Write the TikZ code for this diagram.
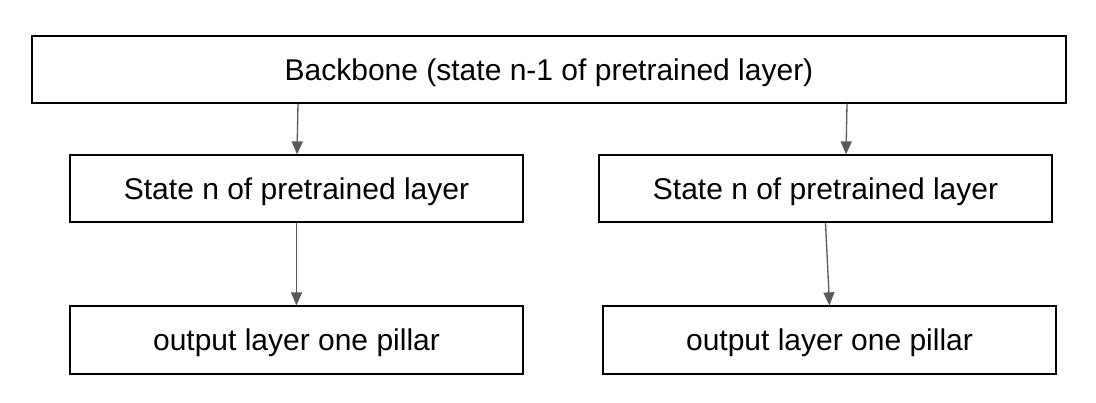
\documentclass[tikz,border=0pt]{standalone}
\usepackage{fontspec}
\setmainfont{Liberation Sans}
\usetikzlibrary{arrows.meta}
\begin{document}
\begin{tikzpicture}[x=1bp,y=-1bp,
  box/.style={draw=black,line width=1.3bp,fill=white,inner sep=0pt,text height=21bp,text depth=0bp,font=\fontsize{30bp}{34bp}\selectfont},
  arr/.style={draw={rgb,255:red,89;green,89;blue,89},line width=1.3bp,-{Triangle[length=13bp,width=11bp]}}]
\useasboundingbox (0,0) rectangle (1096,402);
\node[box,minimum width=1034bp,minimum height=67bp] (bb) at (549,69.5) {Backbone (state n-1 of pretrained layer)};
\node[box,minimum width=453bp,minimum height=67bp] (s1) at (296.5,188.5) {State n of pretrained layer};
\node[box,minimum width=453bp,minimum height=67bp] (s2) at (825.5,188.5) {State n of pretrained layer};
\node[box,minimum width=453bp,minimum height=68bp] (o1) at (296.5,340) {output layer one pillar};
\node[box,minimum width=453bp,minimum height=68bp] (o2) at (829.5,340) {output layer one pillar};
\draw[arr] (bb.south -| 298,0) -- (s1.north -| 297,0);
\draw[arr] (bb.south -| 847,0) -- (s2.north -| 846,0);
\draw[arr] (s1.south) -- (o1.north);
\draw[arr] (s2.south) -- (o2.north);
\end{tikzpicture}
\end{document}
